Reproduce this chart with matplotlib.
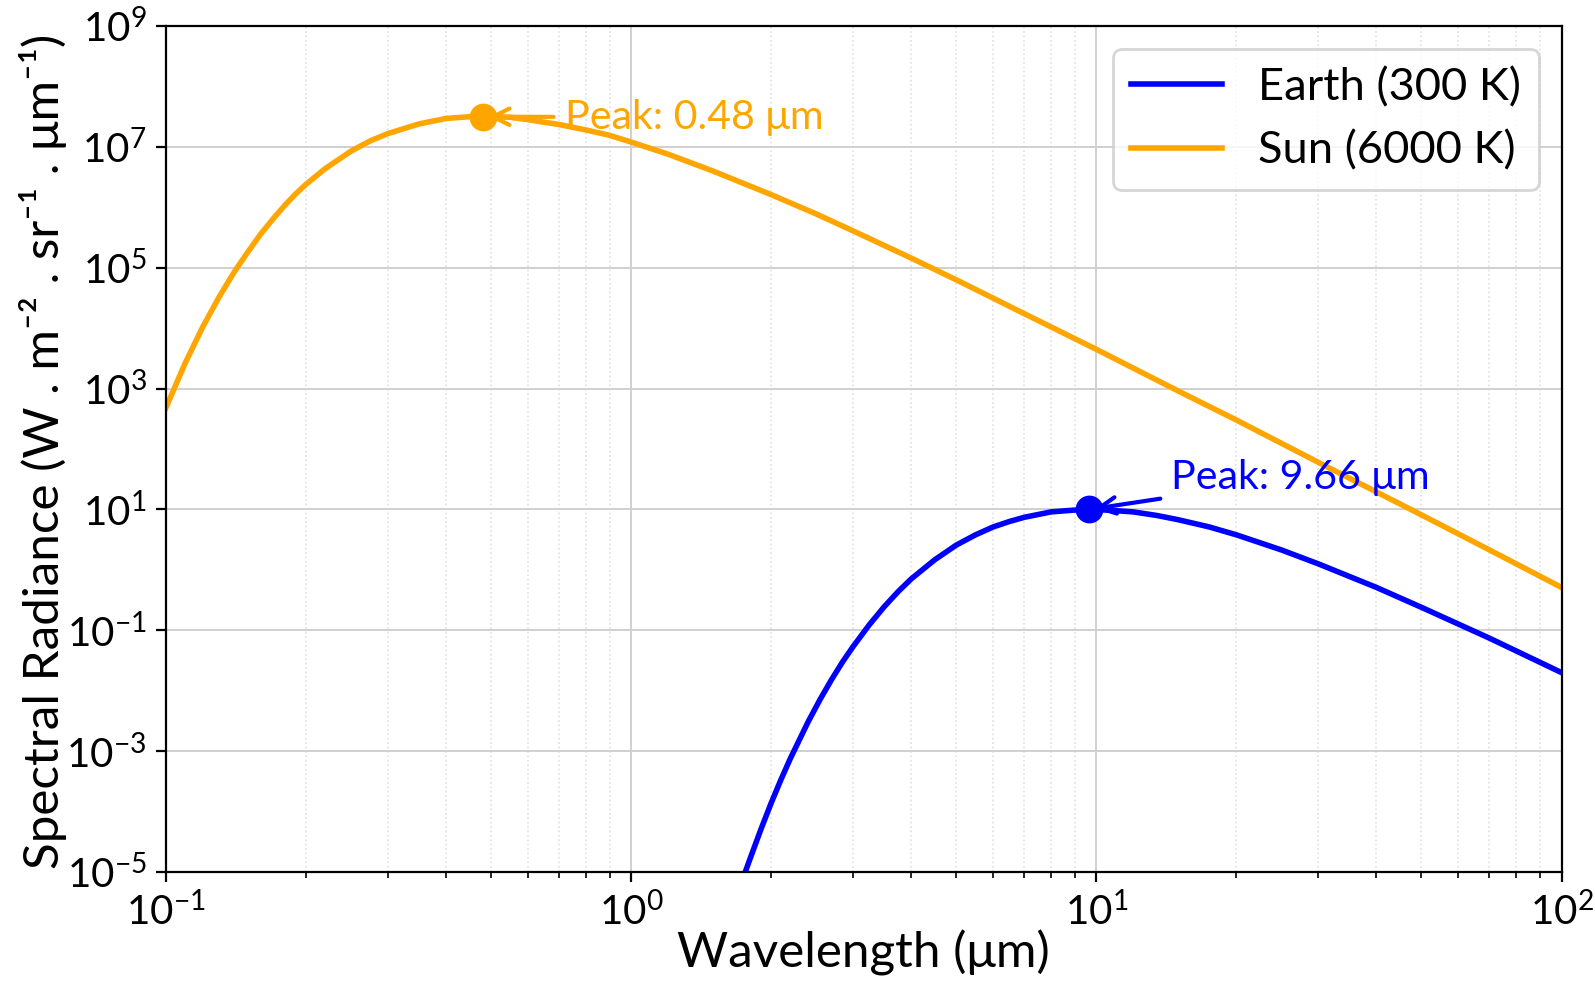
import numpy as np
import matplotlib
matplotlib.use('Agg')
import matplotlib.pyplot as plt
from matplotlib.ticker import LogLocator, NullLocator

# Curves (wavelength in um, log10 of radiance)
sun_wl = [0.10, 0.11, 0.12, 0.13, 0.14, 0.15, 0.16, 0.17, 0.18, 0.19, 0.20, 0.22,
          0.25, 0.275, 0.30, 0.35, 0.40, 0.45, 0.48, 0.50, 0.55, 0.60, 0.70, 0.80,
          0.90, 1.0, 1.2, 1.5, 2.0, 2.5, 3.0, 4.0, 5.0, 7.0, 10.0, 15.0, 20.0, 30.0,
          50.0, 70.0, 100.0]
sun_log = [2.68, 3.42, 4.02, 4.51, 4.92, 5.26, 5.56, 5.81, 6.03, 6.22, 6.38, 6.64,
           6.93, 7.10, 7.22, 7.38, 7.47, 7.50, 7.50, 7.50, 7.49, 7.45, 7.37, 7.28,
           7.19, 7.08, 6.88, 6.60, 6.21, 5.89, 5.61, 5.16, 4.80, 4.24, 3.65, 2.96,
           2.48, 1.78, 0.91, 0.33, -0.29]

earth_wl = [1.75, 1.8, 1.9, 2.0, 2.1, 2.2, 2.4, 2.55, 2.7, 2.85, 3.0, 3.25, 3.5, 3.75,
            4.0, 4.5, 5.0, 5.5, 6.0, 6.5, 7.0, 8.0, 9.0, 9.66, 10.5, 11.0, 12.0, 13.5,
            15.0, 17.5, 20.0, 25.0, 30.0, 40.0, 50.0, 70.0, 100.0]
earth_log = [-5.05, -4.79, -4.30, -3.86, -3.47, -3.12, -2.52, -2.14, -1.81, -1.52,
             -1.27, -0.91, -0.61, -0.36, -0.15, 0.17, 0.41, 0.58, 0.71, 0.80, 0.87,
             0.96, 0.99, 1.00, 0.99, 0.98, 0.96, 0.90, 0.83, 0.71, 0.58, 0.33, 0.10,
             -0.29, -0.62, -1.13, -1.70]

sun_peak = (0.48, 3.16e7)
earth_peak = (9.66, 1.0e1)
sun_text_pos = (0.72, 3.1e7)
earth_text_pos = (14.5, 3.4e1)

FONT = 'Lato'
plt.rcParams['font.family'] = [FONT, 'DejaVu Sans']
plt.rcParams['mathtext.fontset'] = 'custom'
plt.rcParams['mathtext.rm'] = FONT
plt.rcParams['mathtext.it'] = FONT + ':italic'
plt.rcParams['mathtext.bf'] = FONT + ':bold'

fig = plt.figure(figsize=(7.975, 4.91), dpi=200)
ax = fig.add_axes([0.104, 0.112, 0.875, 0.8615])

ax.plot(earth_wl, 10 ** np.array(earth_log), color='blue', lw=2, label='Earth (300 K)')
ax.plot(sun_wl, 10 ** np.array(sun_log), color='orange', lw=2, label='Sun (6000 K)')

# peak markers + labels
ax.plot(*sun_peak, 'o', color='orange', ms=9)
ax.plot(*earth_peak, 'o', color='blue', ms=9)
ax.annotate('Peak: 0.48 μm', xy=sun_peak, xytext=sun_text_pos, color='orange',
            fontsize=14.8, va='center',
            arrowprops=dict(arrowstyle='->', color='orange', lw=1.5))
ax.annotate('Peak: 9.66 μm', xy=earth_peak, xytext=earth_text_pos, color='blue',
            fontsize=14.8, va='center',
            arrowprops=dict(arrowstyle='->', color='blue', lw=1.5))

ax.set_xscale('log')
ax.set_yscale('log')
ax.set_xlim(0.1, 100)
ax.set_ylim(1e-5, 1e9)
ax.set_yticks(10.0 ** np.arange(-5, 10, 2))
ax.yaxis.set_minor_locator(NullLocator())
ax.xaxis.set_minor_locator(LogLocator(subs=np.arange(2, 10)))
ax.tick_params(labelsize=14.5)

ax.set_xlabel('Wavelength (μm)', fontsize=17.8, va='center')
ax.set_ylabel('Spectral Radiance (W . m⁻² . sr⁻¹ . μm⁻¹)', fontsize=17.8, va='center')
ax.xaxis.set_label_coords(0.5, -0.096)
ax.yaxis.set_label_coords(-0.088, 0.497)

ax.grid(True, which='major', color='#d0d0d0', lw=0.7)
ax.grid(True, which='minor', color='#e0e0e0', ls=':', lw=0.6)
ax.legend(loc='upper right', fontsize=16.3)

fig.savefig('out.png', dpi=200)
